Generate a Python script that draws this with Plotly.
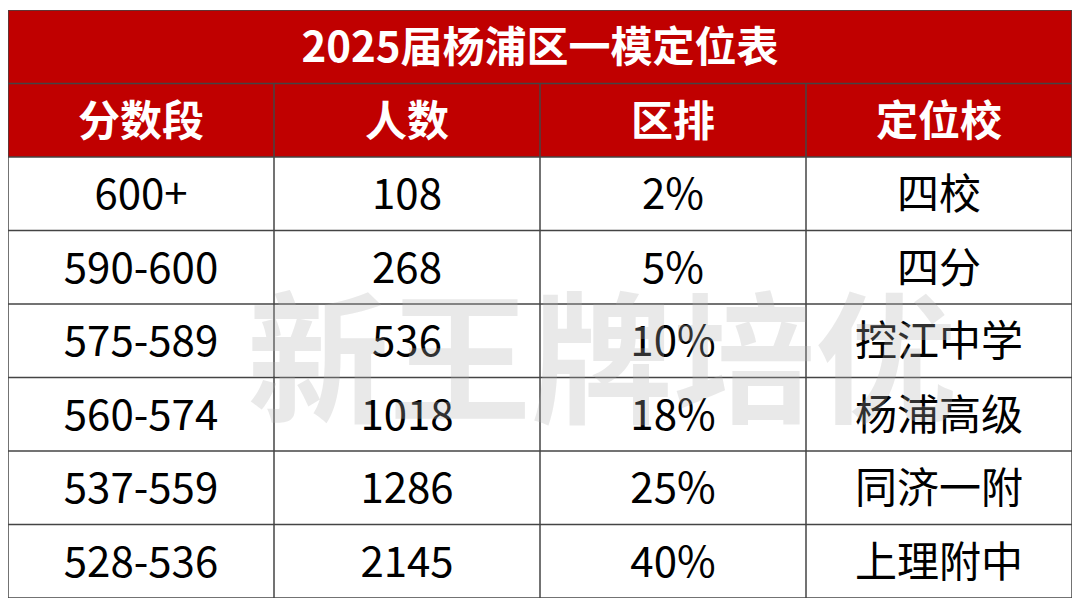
import plotly.graph_objects as go

title = "2025届杨浦区一模定位表"
headers = ["分数段", "人数", "区排", "定位校"]
score_bands = ["600+", "590-600", "575-589", "560-574", "537-559", "528-536"]
counts = ["108", "268", "536", "1018", "1286", "2145"]
ranks = ["2%", "5%", "10%", "18%", "25%", "40%"]
schools = ["四校", "四分", "控江中学", "杨浦高级", "同济一附", "上理附中"]

W, H = 1080, 607
OFF = 8  # page body margin
font = "Noto Sans CJK SC"
red = "#C00000"
line = dict(color="#444444", width=1.5)
dy = 0.07  # nudge text down to look centred

columns = [score_bands, counts, ranks, schools]
n_rows = len(score_bands) + 2

fig = go.Figure()

fig.add_shape(type="rect", x0=0, x1=4, y0=0, y1=2, fillcolor=red, line=dict(width=0), layer="below")
for r in range(n_rows + 1):
    fig.add_shape(type="line", x0=0, x1=4, y0=r, y1=r, line=line)
for c in range(5):
    fig.add_shape(type="line", x0=c, x1=c, y0=0 if c in (0, 4) else 1, y1=n_rows, line=line)

# watermark
fig.add_annotation(text="<b>新王牌培优</b>", xref="paper", yref="paper",
                   x=(602 - OFF) / W, y=1 - (350 - OFF) / H, showarrow=False,
                   font=dict(family=font, size=142, color="rgba(175,175,175,0.28)"))

fig.add_trace(go.Scatter(x=[2], y=[0.5 + dy], mode="text", text=["<b>%s</b>" % title],
                         textfont=dict(family=font, size=42, color="white"), hoverinfo="skip"))
fig.add_trace(go.Scatter(x=[i + 0.5 for i in range(4)], y=[1.5 + dy] * 4, mode="text",
                         text=["<b>%s</b>" % h for h in headers],
                         textfont=dict(family=font, size=42, color="white"), hoverinfo="skip"))
for i, col in enumerate(columns):
    fig.add_trace(go.Scatter(x=[i + 0.5] * len(col), y=[r + 2.5 + dy for r in range(len(col))],
                             mode="text", text=col,
                             textfont=dict(family=font, size=42, color="black"), hoverinfo="skip"))

fig.update_xaxes(range=[0, 4], visible=False, domain=[0, (1072 - OFF) / W])
fig.update_yaxes(range=[n_rows, 0], visible=False,
                 domain=[1 - (598 - OFF) / H, 1 - (10 - OFF) / H])
fig.update_layout(width=W, height=H, margin=dict(l=0, r=0, t=0, b=0),
                  paper_bgcolor="white", plot_bgcolor="white", showlegend=False)
fig.write_html("out.html")
